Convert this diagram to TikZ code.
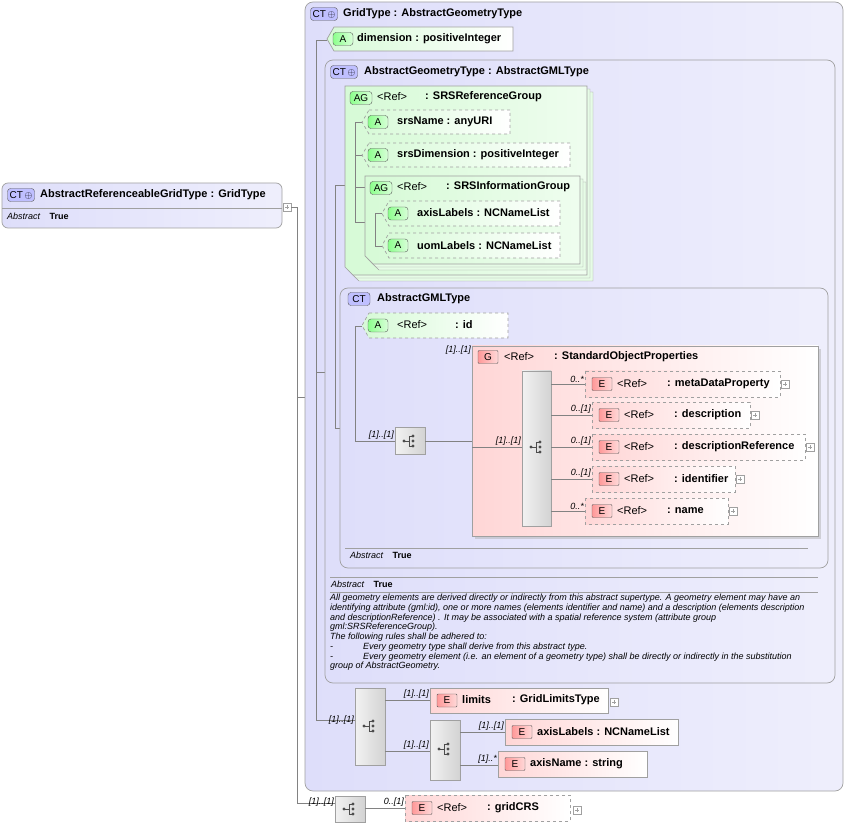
\documentclass[tikz,border=0pt]{standalone}
\usepackage{fontspec}
\setmainfont{Liberation Sans}
\usetikzlibrary{calc,shadows}
\definecolor{ctfill}{RGB}{222,222,250}
\definecolor{agfill}{RGB}{214,250,214}
\definecolor{elfill}{RGB}{255,214,214}
\definecolor{edge}{RGB}{160,160,160}
\definecolor{wire}{RGB}{130,130,130}
\tikzset{
  wire/.style={draw=wire,line width=0.6pt},
  ctbox/.style={draw=edge,rounded corners=8pt,left color=ctfill,right color=ctfill!50,line width=0.7pt},
  agbox/.style={draw=edge,left color=agfill,right color=agfill!40,line width=0.7pt,double copy shadow={shadow xshift=3pt,shadow yshift=-3pt,draw=edge,fill=agfill!60}},
  grpbox/.style={draw=edge,left color=elfill,right color=white,line width=0.7pt,drop shadow={shadow xshift=3pt,shadow yshift=-3pt,fill=gray!60}},
  badge/.style={draw=gray!70!black,rounded corners=3pt,minimum width=20pt,minimum height=13pt,inner sep=0pt,font=\fontsize{10}{11}\selectfont},
  badgeA/.style={badge,left color=green!45!white,right color=green!15!white},
  badgeE/.style={badge,rounded corners=1pt,left color=red!40!white,right color=red!15!white},
  badgeCT/.style={badge,fill=blue!25!white,minimum width=27pt},
  lbl/.style={anchor=west,inner sep=0pt,font=\fontsize{11}{12}\selectfont\bfseries},
  ref/.style={anchor=west,inner sep=0pt,font=\fontsize{11}{12}\selectfont},
  card/.style={anchor=south east,inner sep=1pt,font=\fontsize{9}{10}\selectfont\itshape},
  abs/.style={anchor=west,inner sep=0pt,font=\fontsize{9}{10}\selectfont},
  seqbox/.style={draw=edge,left color=gray!10,right color=gray!35,line width=0.6pt},
}
\newcommand\attrbox[5]{% x1 y1 x2 y2 dash
  \draw[draw=edge,#5,left color=agfill,right color=white,line width=0.7pt]
    ({#1+7},#2) -- (#3,#2) -- (#3,#4) -- ({#1+7},#4) -- (#1,{(#2+#4)/2}) -- cycle;
  \node[badgeA] at ({#1+16},{(#2+#4)/2}) {A};}
\newcommand\elbox[5]{% x1 y1 x2 y2 dash
  \draw[draw=edge,#5,left color=elfill,right color=white,line width=0.7pt] (#1,#2) rectangle (#3,#4);
  \node[badgeE] at ({#1+17},{(#2+#4)/2}) {E};}
\newcommand\plusbox[2]{%
  \draw[draw=edge,fill=white] ({#1},{#2-4}) rectangle ({#1+8},{#2+4});
  \draw[edge] ({#1+2},#2) -- ({#1+6},#2) ({#1+4},{#2-2}) -- ({#1+4},{#2+2});}
\newcommand\seqicon[2]{%
  \fill[black!70] ({#1-6},#2) circle (1.6pt) ({#1+3},{#2-5}) circle (1.6pt) ({#1+3},#2) circle (1.6pt) ({#1+3},{#2+5}) circle (1.6pt);
  \draw[black!70,line width=0.8pt] ({#1-6},#2) -- ({#1-1},#2) ({#1+3},{#2-5}) -- ({#1-1},{#2-5}) -- ({#1-1},{#2+5}) -- ({#1+3},{#2+5});}
\begin{document}
\begin{tikzpicture}[x=1pt,y=-1pt]
  \useasboundingbox (0,0) rectangle (849,826);
  % root type
  \draw[ctbox,rounded corners=6pt] (2,183) rectangle (282,228);
  \draw[edge] (2,208) -- (282,208);
  \node[badgeCT] at (21,195) {CT\,$\oplus$};
  \node[lbl] at (40,195) {AbstractReferenceableGridType : GridType};
  \node[abs] at (7,216) {\textit{Abstract}\quad\textbf{True}};
  \plusbox{283}{207}
  \draw[wire] (291,207) -- (297,207) -- (297,803) -- (335,803);
  \draw[wire] (297,397) -- (305,397);
  % GridType
  \draw[ctbox] (305,2) rectangle (843,791);
  \node[badgeCT] at (324,14) {CT\,$\oplus$};
  \node[lbl] at (343,14) {GridType : AbstractGeometryType};
  \draw[wire] (327,40) -- (316,40) -- (316,720) -- (355,720);
  \draw[wire] (316,372) -- (335,372);
  \attrbox{327}{27}{513}{51}{solid}
  \node[lbl] at (357,39) {dimension : positiveInteger};
  % AbstractGeometryType
  \draw[ctbox] (325,60) rectangle (835,683);
  \node[badgeCT] at (344,72) {CT\,$\oplus$};
  \node[lbl] at (364,72) {AbstractGeometryType : AbstractGMLType};
  \draw[wire] (345,185) -- (335,185) -- (335,428) -- (340,428);
  % SRSReferenceGroup
  \draw[agbox] (345,86) -- (587,86) -- (587,275) -- (353,275) -- (345,267) -- cycle;
  \node[badgeA,minimum width=22pt] at (361,98) {AG};
  \node[ref] at (377,97) {<Ref>};
  \node[lbl] at (425,97) {: SRSReferenceGroup};
  \draw[wire] (362,122) -- (355,122) -- (355,222) -- (375,222);
  \draw[wire] (355,155) -- (362,155) (355,187) -- (365,187);
  \attrbox{362}{110}{510}{134}{dashed}
  \node[lbl] at (397,122) {srsName : anyURI};
  \attrbox{362}{143}{570}{167}{dashed}
  \node[lbl] at (397,155) {srsDimension : positiveInteger};
  \draw[agbox] (365,176) -- (580,176) -- (580,264) -- (373,264) -- (365,256) -- cycle;
  \node[badgeA,minimum width=22pt] at (381,188) {AG};
  \node[ref] at (397,187) {<Ref>};
  \node[lbl] at (446,187) {: SRSInformationGroup};
  \draw[wire] (382,213) -- (375,213) -- (375,246) -- (382,246);
  \attrbox{382}{201}{560}{226}{dashed}
  \node[lbl] at (417,213) {axisLabels : NCNameList};
  \attrbox{382}{233}{560}{258}{dashed}
  \node[lbl] at (417,246) {uomLabels : NCNameList};
  % AbstractGMLType
  \draw[ctbox] (340,288) rectangle (828,568);
  \node[badgeCT,minimum width=22pt] at (359,299) {CT};
  \node[lbl] at (377,299) {AbstractGMLType};
  \draw[edge] (345,548) -- (808,548);
  \node[abs] at (350,555) {\textit{Abstract}\quad\textbf{True}};
  \draw[wire] (362,326) -- (355,326) -- (355,441) -- (395,441);
  \attrbox{362}{313}{508}{338}{dashed}
  \node[ref] at (397,325) {<Ref>};
  \node[lbl] at (455,325) {: id};
  \node[card] at (395,441) {[1]..[1]};
  \draw[seqbox] (395,427) rectangle (425,454);
  \seqicon{410}{441}
  \draw[wire] (425,441) -- (472,441);
  \draw[grpbox] (472,346) rectangle (818,536);
  \node[card] at (472,356) {[1]..[1]};
  \node[badgeE] at (488,357) {G};
  \node[ref] at (504,357) {<Ref>};
  \node[lbl] at (554,357) {: StandardObjectProperties};
  \draw[wire] (472,447) -- (522,447);
  \node[card] at (522,447) {[1]..[1]};
  \draw[seqbox] (522,371) rectangle (551,526);
  \seqicon{537}{447}
  \foreach \ya/\yb/\xa/\xb/\cd/\nm in {371/397/585/780/0..*/metaDataProperty,
      402/428/592/750/0..[1]/description,
      434/460/592/805/0..[1]/descriptionReference,
      466/492/592/735/0..[1]/identifier,
      498/524/585/728/0..*/name}{
    \pgfmathsetmacro\ym{(\ya+\yb)/2}
    \draw[wire] (551,\ym) -- (\xa,\ym);
    \node[card] at (\xa,\ym) {\cd};
    \elbox{\xa}{\ya}{\xb}{\yb}{dashed}
    \node[ref] at (\xa+32,\ym) {<Ref>};
    \node[lbl] at (\xa+82,\ym) {: \nm};
    \plusbox{\xb+1}{\ym}
  }
  % documentation
  \draw[edge] (330,577) -- (818,577) (330,592) -- (818,592);
  \node[abs] at (331,584) {\textit{Abstract}\quad\textbf{True}};
  \node[anchor=north west,inner sep=0pt,align=left,font=\fontsize{9}{9.75}\selectfont\itshape] at (330,594) {%
    All geometry elements are derived directly or indirectly from this abstract supertype. A geometry element may have an\\
    identifying attribute (gml:id), one or more names (elements identifier and name) and a description (elements description\\
    and descriptionReference) . It may be associated with a spatial reference system (attribute group\\
    gml:SRSReferenceGroup).\\
    The following rules shall be adhered to:\\
    -\hspace{30pt}Every geometry type shall derive from this abstract type.\\
    -\hspace{30pt}Every geometry element (i.e. an element of a geometry type) shall be directly or indirectly in the substitution\\
    group of AbstractGeometry.};
  % GridType content model
  \node[card] at (355,726) {[1]..[1]};
  \draw[seqbox] (355,688) rectangle (385,765);
  \seqicon{370}{726}
  \draw[wire] (385,700) -- (430,700) (385,751) -- (430,751);
  \node[card] at (430,700) {[1]..[1]};
  \node[card] at (430,751) {[1]..[1]};
  \elbox{430}{688}{608}{713}{solid}
  \node[lbl] at (462,700) {limits};
  \node[lbl] at (512,700) {: GridLimitsType};
  \plusbox{610}{702}
  \draw[seqbox] (430,720) rectangle (460,780);
  \seqicon{445}{749}
  \draw[wire] (460,732) -- (505,732) (460,765) -- (498,765);
  \node[card] at (505,732) {[1]..[1]};
  \node[card] at (498,765) {[1]..*};
  \elbox{505}{719}{678}{745}{solid}
  \node[lbl] at (537,732) {axisLabels : NCNameList};
  \elbox{498}{751}{647}{777}{solid}
  \node[lbl] at (530,764) {axisName : string};
  % gridCRS
  \node[card] at (335,808) {[1]..[1]};
  \draw[seqbox] (335,796) rectangle (365,822);
  \seqicon{350}{809}
  \draw[wire] (365,808) -- (405,808);
  \node[card] at (405,808) {0..[1]};
  \elbox{405}{795}{570}{821}{dashed}
  \node[ref] at (437,808) {<Ref>};
  \node[lbl] at (487,808) {: gridCRS};
  \plusbox{573}{810}
\end{tikzpicture}
\end{document}
